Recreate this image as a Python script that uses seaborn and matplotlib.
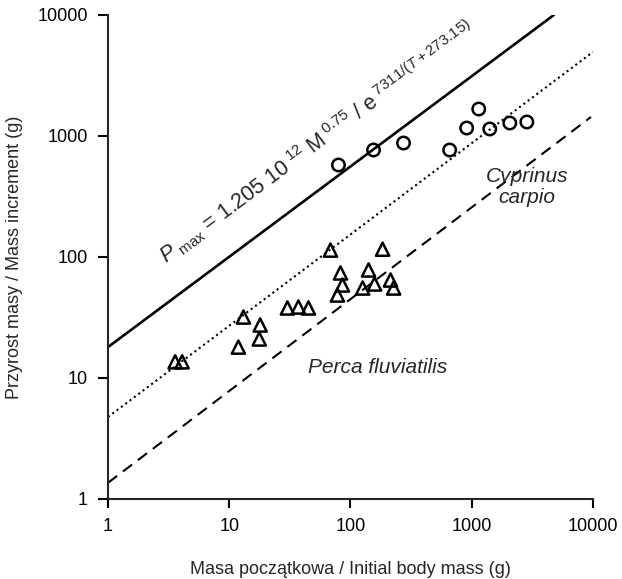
import matplotlib
matplotlib.use("Agg")
import matplotlib.pyplot as plt
import pandas as pd
import seaborn as sns
from matplotlib.ticker import NullLocator

# Cyprinus carpio (circles)
carp_mass = [79.6, 155, 274, 658, 909, 1143, 1409, 2061, 2850]
carp_incr = [576, 766, 875, 766, 1164, 1671, 1143, 1280, 1305]

# Perca fluviatilis (triangles)
perch_mass = [3.58, 4.09, 13.1, 11.9, 18.0, 17.7, 30.2, 37.2, 45.0, 68.4,
              82.7, 85.9, 78.1, 141, 158, 126, 184, 214, 227]
perch_incr = [13.6, 13.6, 31.9, 18.0, 27.4, 21.0, 37.9, 38.6, 37.9, 114,
              73.8, 58.7, 48.5, 78.1, 59.8, 55.4, 116, 64.5, 55.4]

# reference lines (end points)
pmax_x = [1, 4760]
pmax_y = [18.0, 10000]
dotted_x = [1, 10000]
dotted_y = [4.76, 4950]
dashed_x = [1, 9630]
dashed_y = [1.36, 1435]

ticks = [1, 10, 100, 1000, 10000]
tick_labels = ["1", "10", "100", "1000", "10000"]

sns.set_style("ticks")
plt.rcParams["font.family"] = ["Liberation Sans", "DejaVu Sans"]
plt.rcParams["mathtext.fontset"] = "custom"
plt.rcParams["mathtext.rm"] = "Liberation Sans"
plt.rcParams["mathtext.it"] = "Liberation Sans:italic"

fig = plt.figure(figsize=(6.22, 5.79), dpi=100)
ax = fig.add_axes([0.1736, 0.1382, 0.7797, 0.8359])
ax.set_xscale("log")
ax.set_yscale("log")

lines = pd.DataFrame({
    "x": pmax_x + dotted_x + dashed_x,
    "y": pmax_y + dotted_y + dashed_y,
    "kind": ["pmax"] * 2 + ["dot"] * 2 + ["dash"] * 2,
})
sns.lineplot(data=lines[lines.kind == "pmax"], x="x", y="y", ax=ax,
             color="black", lw=1.9, linestyle="-")
sns.lineplot(data=lines[lines.kind == "dot"], x="x", y="y", ax=ax,
             color="black", lw=1.5, linestyle=(0, (1, 1.6)), clip_on=False)
sns.lineplot(data=lines[lines.kind == "dash"], x="x", y="y", ax=ax,
             color="black", lw=1.5, linestyle=(0, (5.5, 3.5)))

carp = pd.DataFrame({"mass": carp_mass, "incr": carp_incr})
perch = pd.DataFrame({"mass": perch_mass, "incr": perch_incr})
sns.scatterplot(data=carp, x="mass", y="incr", ax=ax, marker="o", s=80)
pts = ax.collections[-1]
pts.set_facecolor("none")
pts.set_edgecolor("black")
pts.set_linewidth(1.8)
sns.scatterplot(data=perch, x="mass", y="incr", ax=ax, marker="^", s=90)
pts = ax.collections[-1]
pts.set_facecolor("none")
pts.set_edgecolor("black")
pts.set_linewidth(1.8)

ax.set_xlim(1, 10000)
ax.set_ylim(1, 10000)
ax.set_xticks(ticks)
ax.set_xticklabels(tick_labels)
ax.set_yticks(ticks)
ax.set_yticklabels(tick_labels)
ax.xaxis.set_minor_locator(NullLocator())
ax.yaxis.set_minor_locator(NullLocator())
ax.tick_params(axis="both", which="major", direction="out", length=7.5,
               width=1.5, labelsize=13, colors="black")
ax.tick_params(axis="x", length=6.5, pad=7)
ax.tick_params(axis="y", pad=7)
for side in ["left", "bottom"]:
    ax.spines[side].set_linewidth(1.5)
sns.despine(ax=ax)

ax.set_xlabel("Masa początkowa / Initial body mass (g)", fontsize=13, labelpad=19)
ax.set_ylabel("Przyrost masy / Mass increment (g)", fontsize=13, labelpad=10)

ax.text(3.05, 87,
        r"$P_{\rm\ max}$ = 1.205 10$^{\ 12}$ M$^{\ 0.75}$ / e$^{\ 7311/(T+273.15)}$",
        fontsize=15.5, rotation=36.7, rotation_mode="anchor",
        ha="left", va="baseline")
ax.text(2850, 379, "Cyprinus\ncarpio", fontsize=15, style="italic",
        ha="center", va="center", linespacing=1.1)
ax.text(167, 12.3, "Perca fluviatilis", fontsize=15, style="italic",
        ha="center", va="center")

fig.savefig("out.png", dpi=100)
